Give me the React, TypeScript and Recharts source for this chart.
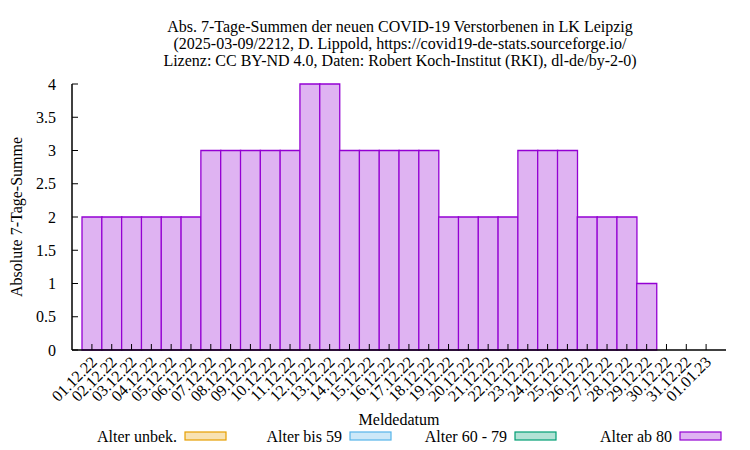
import React from 'react';
import { ComposedChart, Bar, XAxis, YAxis } from 'recharts';

// Meldedatum (x-axis categories)
const dates = [
    '01.12.22', '02.12.22', '03.12.22', '04.12.22', '05.12.22', '06.12.22', '07.12.22', '08.12.22',
    '09.12.22', '10.12.22', '11.12.22', '12.12.22', '13.12.22', '14.12.22', '15.12.22', '16.12.22',
    '17.12.22', '18.12.22', '19.12.22', '20.12.22', '21.12.22', '22.12.22', '23.12.22', '24.12.22',
    '25.12.22', '26.12.22', '27.12.22', '28.12.22', '29.12.22', '30.12.22', '31.12.22', '01.01.23',
];

// 7-day sums per age group
const alterUnbek = [0, 0, 0, 0, 0, 0, 0, 0, 0, 0, 0, 0, 0, 0, 0, 0, 0, 0, 0, 0, 0, 0, 0, 0, 0, 0, 0, 0, 0, 0, 0, 0];
const alterBis59 = [0, 0, 0, 0, 0, 0, 0, 0, 0, 0, 0, 0, 0, 0, 0, 0, 0, 0, 0, 0, 0, 0, 0, 0, 0, 0, 0, 0, 0, 0, 0, 0];
const alter60bis79 = [0, 0, 0, 0, 0, 0, 0, 0, 0, 0, 0, 0, 0, 0, 0, 0, 0, 0, 0, 0, 0, 0, 0, 0, 0, 0, 0, 0, 0, 0, 0, 0];
const alterAb80 = [2, 2, 2, 2, 2, 2, 3, 3, 3, 3, 3, 4, 4, 3, 3, 3, 3, 3, 2, 2, 2, 2, 3, 3, 3, 2, 2, 2, 1, 0, 0, 0];

const yTicks = [0, 0.5, 1, 1.5, 2, 2.5, 3, 3.5, 4];

const series = [
    { key: 'unbek', name: 'Alter unbek.', fill: '#f8e2b2', stroke: '#e69f00' },
    { key: 'bis59', name: 'Alter bis 59', fill: '#cce8f8', stroke: '#56b4e9' },
    { key: 'm60', name: 'Alter 60 - 79', fill: '#b2e2d5', stroke: '#009e73' },
    { key: 'ab80', name: 'Alter ab 80', fill: '#dfb3f2', stroke: '#9400d3' },
];

const data = dates.map((d, i) => ({
    date: d,
    unbek: alterUnbek[i],
    bis59: alterBis59[i],
    m60: alter60bis79[i],
    ab80: alterAb80[i],
}));

const FONT = '"Liberation Serif", "Times New Roman", serif';

// ticks point inwards like gnuplot
const BottomTick = ({ x, y, payload }: any) => (
    <g>
        <line x1={x} x2={x} y1={y} y2={y - 6} stroke="#000" />
        <text x={x + 6} y={y + 13} transform={`rotate(-45 ${x + 6} ${y + 13})`} textAnchor="end"
            fontFamily={FONT} fontSize={16} fill="#000">{payload.value}</text>
    </g>
);

const TopTick = ({ x, y }: any) => <line x1={x} x2={x} y1={y} y2={y + 6} stroke="#000" />;

const LeftTick = ({ x, y, payload }: any) => (
    <g>
        <line x1={x} x2={x + 6} y1={y} y2={y} stroke="#000" />
        <text x={x - 16} y={y} dy="0.35em" textAnchor="end" fontFamily={FONT} fontSize={16} fill="#000">
            {payload.value}
        </text>
    </g>
);

const RightTick = ({ x, y }: any) => <line x1={x} x2={x - 6} y1={y} y2={y} stroke="#000" />;

const App: React.FC = () => {
    return (
        <div style={{ position: 'absolute', left: 0, top: 0, width: 750, height: 450, background: '#fff' }}>
            <ComposedChart width={750} height={450} data={data} barCategoryGap={0} barGap={0}
                margin={{ top: 84, right: 24, left: 0, bottom: 0 }}>
                <XAxis dataKey="date" xAxisId="main" height={100} interval={0} padding={{ left: 10, right: 10 }}
                    tickLine={false} tickSize={0} tickMargin={0} tick={<BottomTick />}
                    axisLine={{ stroke: '#000', strokeWidth: 1.5 }} />
                <XAxis dataKey="date" xAxisId="top" orientation="top" height={0} interval={0}
                    padding={{ left: 10, right: 10 }} tickLine={false} tickSize={0} tickMargin={0}
                    tick={<TopTick />} axisLine={{ stroke: '#000', strokeWidth: 1.5 }} />
                <YAxis yAxisId="left" width={72} domain={[0, 4]} ticks={yTicks} interval={0}
                    tickLine={false} tickSize={0} tickMargin={0} tick={<LeftTick />}
                    axisLine={{ stroke: '#000', strokeWidth: 1.5 }} />
                <YAxis yAxisId="right" orientation="right" width={0} domain={[0, 4]} ticks={yTicks}
                    interval={0} tickLine={false} tickSize={0} tickMargin={0} tick={<RightTick />}
                    axisLine={{ stroke: '#000', strokeWidth: 1.5 }} />
                {series.map((s) => (
                    <Bar key={s.key} dataKey={s.key} name={s.name} stackId="a" xAxisId="main" yAxisId="left"
                        fill={s.fill} stroke={s.stroke} strokeWidth={1.3} isAnimationActive={false} />
                ))}
            </ComposedChart>

            {/* Titles, axis labels and legend */}
            <svg width={750} height={450} style={{ position: 'absolute', left: 0, top: 0, pointerEvents: 'none' }}
                fontFamily={FONT} fontSize={16} fill="#000">
                <text x={400} y={32} textAnchor="middle">Abs. 7-Tage-Summen der neuen COVID-19 Verstorbenen in LK Leipzig</text>
                <text x={400} y={49} textAnchor="middle">(2025-03-09/2212, D. Lippold, https://covid19-de-stats.sourceforge.io/</text>
                <text x={400} y={66} textAnchor="middle">Lizenz: CC BY-ND 4.0, Daten: Robert Koch-Institut (RKI), dl-de/by-2-0)</text>
                <text x={0} y={0} textAnchor="middle" transform="translate(22 217) rotate(-90)">Absolute 7-Tage-Summe</text>
                <text x={399} y={425} textAnchor="middle">Meldedatum</text>
                {series.map((s, i) => {
                    const bx = 185 + i * 165;
                    return (
                        <g key={s.key}>
                            <text x={bx - 8} y={442} textAnchor="end">{s.name}</text>
                            <rect x={bx} y={432} width={41} height={8} fill={s.fill} stroke={s.stroke} strokeWidth={1.2} />
                        </g>
                    );
                })}
            </svg>
        </div>
    );
};

export default App;
